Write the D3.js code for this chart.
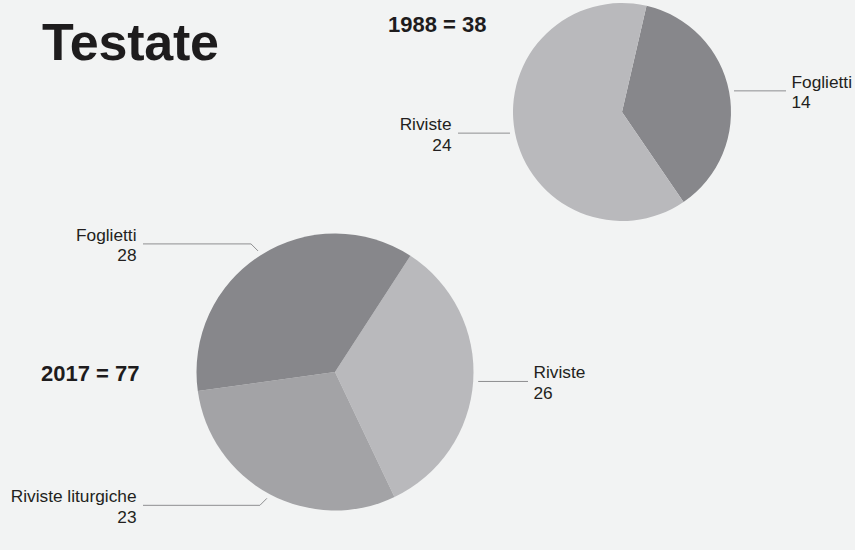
<!DOCTYPE html>
<html>
<head>
<meta charset="utf-8">
<script src="https://cdn.jsdelivr.net/npm/d3@7"></script>
<style>
  html, body { margin: 0; padding: 0; background: #f2f3f3; }
  svg { display: block; font-family: "Liberation Sans", Arial, Helvetica, sans-serif; }
</style>
</head>
<body>
<svg id="chart" width="855" height="550"></svg>
<script>
// Number of titles (testate) by type, two years
const categories1988 = ["Foglietti", "Riviste"];
const values1988 = [14, 24];

const categories2017 = ["Riviste", "Riviste liturgiche", "Foglietti"];
const values2017 = [26, 23, 28];

const years = ["1988", "2017"];

// Fill per category
const categoryColors = {
  "Foglietti": "#87878b",
  "Riviste": "#b9b9bc",
  "Riviste liturgiche": "#a3a3a6"
};

// Layout of each pie and its callouts
const layouts = [
  {
    year: years[0], categories: categories1988, values: values1988,
    cx: 622, cy: 112, r: 109, startDeg: 13,
    totalPos: [388, 31.5], totalAnchor: "start",
    callouts: {
      "Foglietti": { side: "right", endX: 786, elbow: false },
      "Riviste": { side: "left", endX: 458, elbow: false }
    }
  },
  {
    year: years[1], categories: categories2017, values: values2017,
    cx: 335, cy: 372, r: 138.5, startDeg: 33,
    totalPos: [41, 381], totalAnchor: "start",
    callouts: {
      "Riviste": { side: "right", endX: 528, elbow: false },
      "Riviste liturgiche": { side: "left", endX: 143, elbow: true },
      "Foglietti": { side: "left", endX: 143, elbow: true }
    }
  }
];

const svg = d3.select("#chart");

svg.append("text")
  .attr("x", 42)
  .attr("y", 59.5)
  .attr("font-size", 52)
  .attr("font-weight", "bold")
  .attr("fill", "#1e1c1d")
  .attr("letter-spacing", -0.2)
  .text("Testate");

const rad = d => d * Math.PI / 180;

layouts.forEach(L => {
  const data = L.categories.map((c, i) => ({ category: c, value: L.values[i] }));
  const total = d3.sum(L.values);

  const pie = d3.pie()
    .sort(null)
    .value(d => d.value)
    .startAngle(rad(L.startDeg))
    .endAngle(rad(L.startDeg) + 2 * Math.PI);

  const arc = d3.arc().innerRadius(0).outerRadius(L.r);
  const arcs = pie(data);

  const g = svg.append("g").attr("transform", `translate(${L.cx},${L.cy})`);

  g.selectAll("path.slice")
    .data(arcs)
    .join("path")
    .attr("class", "slice")
    .attr("d", arc)
    .attr("fill", d => categoryColors[d.data.category]);

  // Year total
  svg.append("text")
    .attr("x", L.totalPos[0])
    .attr("y", L.totalPos[1])
    .attr("text-anchor", L.totalAnchor)
    .attr("font-size", 22)
    .attr("font-weight", "bold")
    .attr("fill", "#1e1c1d")
    .text(`${L.year} = ${total}`);

  // Callouts
  arcs.forEach(a => {
    const spec = L.callouts[a.data.category];
    const mid = (a.startAngle + a.endAngle) / 2;
    const rr = L.r + 5;
    const x0 = L.cx + rr * Math.sin(mid);
    const y0 = L.cy - rr * Math.cos(mid);
    const pts = [[x0, y0]];
    let y = y0;
    if (spec.elbow) {
      const dir = spec.side === "left" ? -1 : 1;
      const vy = y0 < L.cy ? -1 : 1;
      const p1 = [x0 + dir * 7, y0 + vy * 7];
      pts.push(p1);
      y = p1[1];
    }
    pts.push([spec.endX, y]);

    svg.append("path")
      .attr("d", d3.line()(pts))
      .attr("fill", "none")
      .attr("stroke", "#8e8e90")
      .attr("stroke-width", 1);

    const tx = spec.side === "left" ? spec.endX - 6.5 : spec.endX + 5.5;
    const anchor = spec.side === "left" ? "end" : "start";
    const t = svg.append("text")
      .attr("text-anchor", anchor)
      .attr("font-size", 17.3)
      .attr("fill", "#231f20");
    t.append("tspan").attr("x", tx).attr("y", y - 3).text(a.data.category);
    t.append("tspan").attr("x", tx).attr("y", y + 17.5).text(a.data.value);
  });
});
</script>
</body>
</html>
